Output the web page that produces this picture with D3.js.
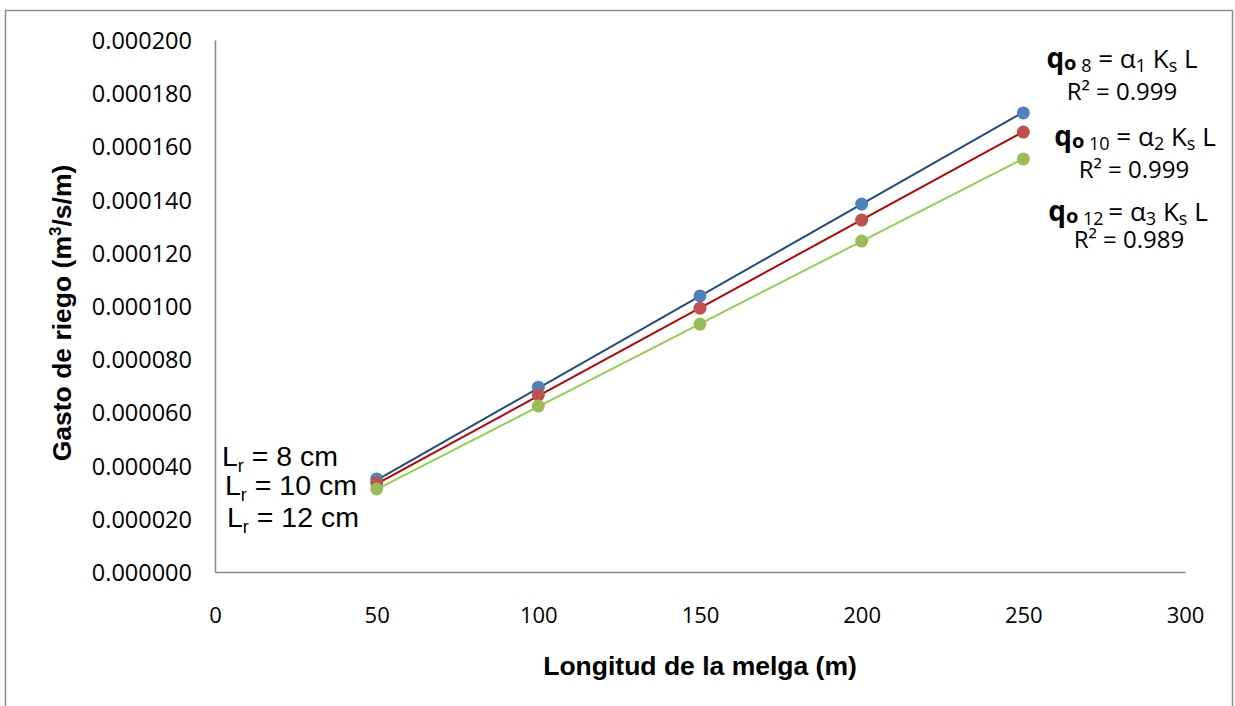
<!DOCTYPE html>
<html>
<head>
<meta charset="utf-8">
<script src="https://cdn.jsdelivr.net/npm/d3@7"></script>
<style>
  html, body { margin: 0; padding: 0; background: #fff; }
  svg { display: block; }
</style>
</head>
<body>
<svg id="chart" width="1235" height="706"></svg>
<script>
// Longitud de la melga (m)
const lengths = [50, 100, 150, 200, 250];
// Gasto de riego (m3/s/m) for each root length
const q8 = [0.0000350, 0.0000695, 0.0001038, 0.0001383, 0.0001726];
const q10 = [0.0000335, 0.0000665, 0.0000992, 0.0001323, 0.0001654];
const q12 = [0.0000312, 0.0000624, 0.0000932, 0.0001244, 0.0001553];
const seriesNames = ["8", "10", "12"];
const r2Labels = ["0.999", "0.999", "0.989"];
const xTicks = [0, 50, 100, 150, 200, 250, 300];
const yTicks = [0, 0.00002, 0.00004, 0.00006, 0.00008, 0.0001, 0.00012, 0.00014, 0.00016, 0.00018, 0.0002];

const series = [
  { name: seriesNames[0], values: q8, line: "#1F497D", marker: "#4F81BD" },
  { name: seriesNames[1], values: q10, line: "#C00000", marker: "#C0504D" },
  { name: seriesNames[2], values: q12, line: "#92D050", marker: "#9BBB59" }
];

const svg = d3.select("#chart");
const tickFont = "'Open Sans', sans-serif";
const labelFont = "'Liberation Sans', Arial, sans-serif";

// chart area border
svg.append("rect")
  .attr("x", 5.5).attr("y", 10.5)
  .attr("width", 1227).attr("height", 710)
  .attr("fill", "none").attr("stroke", "#8c8c8c").attr("stroke-width", 1.5);

const x = d3.scaleLinear().domain([0, 300]).range([215, 1185]);
const y = d3.scaleLinear().domain([0, 0.0002]).range([572, 40]);

// axes
const xAxis = d3.axisBottom(x).tickValues(xTicks).tickSize(0).tickPadding(0).tickFormat(d3.format("d"));
const gx = svg.append("g").attr("transform", `translate(0,${y(0)})`).call(xAxis);
gx.select(".domain").attr("stroke", "#868686").attr("stroke-width", 1.5);
gx.selectAll("text")
  .attr("dy", null).attr("y", 51)
  .attr("font-family", tickFont).attr("font-size", 22).attr("fill", "#000");

const yAxis = d3.axisLeft(y).tickValues(yTicks).tickSize(0).tickPadding(0).tickFormat(d3.format(".6f"));
const gy = svg.append("g").attr("transform", `translate(${x(0)},0)`).call(yAxis);
gy.select(".domain").attr("stroke", "#868686").attr("stroke-width", 1.5);
gy.selectAll("text")
  .attr("x", -23).attr("dy", "0.36em")
  .attr("font-family", tickFont).attr("font-size", 23.5).attr("fill", "#000");

// axis titles
svg.append("text")
  .attr("x", 700).attr("y", 675)
  .attr("text-anchor", "middle")
  .attr("font-family", labelFont).attr("font-weight", "bold").attr("font-size", 26.5)
  .text("Longitud de la melga (m)");

const yt = svg.append("text")
  .attr("transform", "translate(71,313) rotate(-90)")
  .attr("text-anchor", "middle")
  .attr("font-family", labelFont).attr("font-weight", "bold").attr("font-size", 26.5);
yt.append("tspan").text("Gasto de riego (m");
yt.append("tspan").attr("dy", -10).attr("font-size", 17).text("3");
yt.append("tspan").attr("dy", 10).text("/s/m)");

// linear trend lines through the origin (q = a L)
series.forEach(s => {
  const sxy = d3.sum(lengths, (L, i) => L * s.values[i]);
  const sxx = d3.sum(lengths, L => L * L);
  s.slope = sxy / sxx;
});

const plot = svg.append("g");
series.forEach(s => {
  const ends = [d3.min(lengths), d3.max(lengths)];
  plot.append("line")
    .attr("x1", x(ends[0])).attr("y1", y(s.slope * ends[0]))
    .attr("x2", x(ends[1])).attr("y2", y(s.slope * ends[1]))
    .attr("stroke", s.line).attr("stroke-width", 2);
});
series.forEach(s => {
  plot.selectAll(null)
    .data(lengths.map((L, i) => [L, s.values[i]]))
    .join("circle")
    .attr("cx", d => x(d[0])).attr("cy", d => y(d[1]))
    .attr("r", 6.5)
    .attr("fill", s.marker);
});

// series labels at the left end
const lrY = [466, 495, 527];
const lrX = [222, 225, 227];
series.forEach((s, i) => {
  const t = svg.append("text")
    .attr("x", lrX[i]).attr("y", lrY[i])
    .attr("font-family", labelFont).attr("font-size", 28.5).attr("fill", "#000");
  t.append("tspan").text("L");
  t.append("tspan").attr("dy", 6).attr("font-size", 18).text("r");
  t.append("tspan").attr("dy", -6).text(` = ${s.name} cm`);
});

// trend line equations on the right
const eqX = [1122, 1135, 1128];
const eqY = [68, 146, 221];
const r2X = [1122, 1134, 1129];
const r2Y = [100, 178, 248];
series.forEach((s, i) => {
  const t = svg.append("text")
    .attr("x", eqX[i]).attr("y", eqY[i])
    .attr("text-anchor", "middle")
    .attr("font-family", tickFont).attr("font-size", 26).attr("fill", "#000");
  t.append("tspan").attr("font-weight", "bold").attr("font-size", 28).text("q");
  t.append("tspan").attr("font-weight", "bold").attr("font-size", 20).attr("dy", 2).text("o");
  t.append("tspan").attr("font-size", 18).attr("dy", 2).text(i === 2 ? "  12 " : ` ${s.name}`);
  t.append("tspan").attr("dy", -4).text(" = α");
  t.append("tspan").attr("font-size", 18).attr("dy", 4).text(String(i + 1));
  t.append("tspan").attr("dy", -4).text(i === 2 ? "  K" : " K");
  t.append("tspan").attr("font-size", 18).attr("dy", 4).text("s");
  t.append("tspan").attr("dy", -4).text(" L");

  svg.append("text")
    .attr("x", r2X[i]).attr("y", r2Y[i])
    .attr("text-anchor", "middle")
    .attr("font-family", tickFont).attr("font-size", 24).attr("fill", "#000")
    .text(`R² = ${r2Labels[i]}`);
});
</script>
</body>
</html>
